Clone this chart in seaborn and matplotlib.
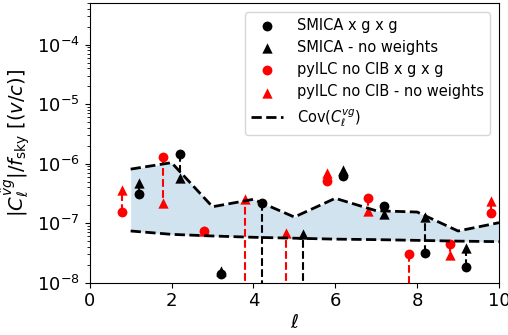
import numpy as np
import pandas as pd
import matplotlib
matplotlib.use("Agg")
import matplotlib.pyplot as plt
import seaborn as sns

# multipole bins
ell = [1, 2, 3, 4, 5, 6, 7, 8, 9, 10]

# SMICA (plotted at ell + 0.2)
smica_xgg = [3.1e-7, 1.46e-6, 1.4e-8, 2.2e-7, 3e-9, 6.3e-7, 1.95e-7, 3.2e-8, 1.86e-8, 1.2e-7]
smica_noweights = [4.8e-7, 5.8e-7, 1.6e-8, 3e-9, 6.5e-8, 7.8e-7, 1.41e-7, 1.29e-7, 3.8e-8, 1.0e-7]

# pyILC without CIB deprojection (plotted at ell - 0.2)
pyilc_xgg = [1.54e-7, 1.28e-6, 7.4e-8, 3e-9, 3e-9, 5.1e-7, 2.7e-7, 3.0e-8, 4.5e-8, 1.5e-7]
pyilc_noweights = [3.6e-7, 2.16e-7, 7.4e-8, 2.6e-7, 6.8e-8, 7.1e-7, 1.62e-7, 3e-9, 2.9e-8, 2.36e-7]

# covariance band
cov_upper = [8.1e-7, 1.04e-6, 1.89e-7, 2.52e-7, 1.27e-7, 2.62e-7, 1.62e-7, 1.54e-7, 7.4e-8, 1.02e-7]
cov_lower = [7.4e-8, 6.5e-8, 6.1e-8, 5.8e-8, 5.6e-8, 5.4e-8, 5.3e-8, 5.15e-8, 5.0e-8, 4.9e-8]

xticks = [0, 2, 4, 6, 8, 10]

ell_arr = np.array(ell, dtype=float)
x_smica = ell_arr + 0.2
x_pyilc = ell_arr - 0.2

fig = plt.figure(figsize=(5.08, 3.35), dpi=100)
ax = fig.add_axes([0.1766, 0.156, 0.8057, 0.835])

ax.fill_between(ell_arr, cov_lower, cov_upper, color="C0", alpha=0.2, lw=0, zorder=1)

# connectors between weighted and unweighted estimates
ax.vlines(x_smica, smica_xgg, smica_noweights, colors="k", linestyles="--", lw=1.5, zorder=2)
ax.vlines(x_pyilc, pyilc_xgg, pyilc_noweights, colors="red", linestyles="--", lw=1.5, zorder=2)

df_s = pd.DataFrame({"x": x_smica, "xgg": smica_xgg, "nw": smica_noweights})
df_p = pd.DataFrame({"x": x_pyilc, "xgg": pyilc_xgg, "nw": pyilc_noweights})

sns.scatterplot(data=df_s, x="x", y="nw", marker="^", color="k", s=55, linewidth=0,
                ax=ax, zorder=3, label="SMICA - no weights")
sns.scatterplot(data=df_p, x="x", y="nw", marker="^", color="red", s=55, linewidth=0,
                ax=ax, zorder=3, label="pyILC no CIB - no weights")
sns.scatterplot(data=df_s, x="x", y="xgg", marker="o", color="k", s=50, linewidth=0,
                ax=ax, zorder=4, label="SMICA x g x g")
sns.scatterplot(data=df_p, x="x", y="xgg", marker="o", color="red", s=50, linewidth=0,
                ax=ax, zorder=4, label="pyILC no CIB x g x g")

df_c = pd.DataFrame({"ell": ell_arr, "up": cov_upper, "lo": cov_lower})
sns.lineplot(data=df_c, x="ell", y="up", color="k", ls="--", lw=2, ax=ax, zorder=5,
             label=r"Cov($C_\ell^{vg}$)")
sns.lineplot(data=df_c, x="ell", y="lo", color="k", ls="--", lw=2, ax=ax, zorder=5)

ax.set_yscale("log")
ax.set_xlim(0, 10)
ax.set_ylim(1e-8, 5e-4)
ax.set_xticks(xticks)
ax.tick_params(labelsize=13)
ax.set_xlabel(r"$\ell$", fontsize=14, labelpad=2)
ax.set_ylabel(r"$|C_\ell^{\hat{v}g}|/f_{\rm sky}$ [$(v/c)$]", fontsize=14)

handles, labels = ax.get_legend_handles_labels()
order = ["SMICA x g x g", "SMICA - no weights", "pyILC no CIB x g x g",
         "pyILC no CIB - no weights", r"Cov($C_\ell^{vg}$)"]
hmap = dict(zip(labels, handles))
ax.legend([hmap[k] for k in order], order, loc="upper right", fontsize=10.5,
          handlelength=2.2, handletextpad=1.0, borderaxespad=0.6, labelspacing=0.5)

fig.savefig("out.png", dpi=100)
